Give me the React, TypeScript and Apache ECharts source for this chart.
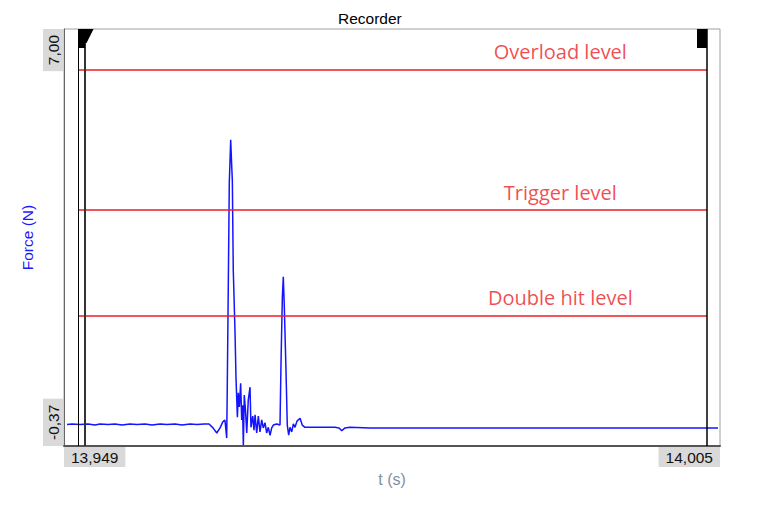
import React, { useEffect, useRef } from "react";
import * as echarts from "echarts";

const chartTitle = "Recorder";
const xAxisName = "t (s)";
const yAxisName = "Force (N)";
const xMin = 13.949;
const xMax = 14.005;
const yMin = -0.37;
const yMax = 7.0;
const xTickValues = [13.949, 14.005];
const yTickValues = [-0.37, 7.0];
const cursorTimes = [13.9502, 13.95079, 14.00389];
const levelNames = ["Overload level", "Trigger level", "Double hit level"];
const levelValues = [6.28, 3.8, 1.93];
const levelLabelTime = 13.99137;

const signalTime = [
  13.94926, 13.94968, 13.95037, 13.95105, 13.95165, 13.95207, 13.95276, 13.95335,
  13.95395, 13.95463, 13.95523, 13.95592, 13.95651, 13.9572, 13.95779, 13.95848,
  13.95907, 13.95976, 13.96035, 13.96095, 13.96138, 13.96172, 13.96204, 13.96232,
  13.96257, 13.96274, 13.96289, 13.96294, 13.96303, 13.96311, 13.96323, 13.96332,
  13.96337, 13.96345, 13.9636, 13.96368, 13.9638, 13.96388, 13.96397, 13.96408,
  13.96417, 13.96424, 13.96431, 13.96439, 13.96449, 13.9646, 13.96473, 13.96488,
  13.96496, 13.96511, 13.96522, 13.96531, 13.96545, 13.96559, 13.96573, 13.96588,
  13.96601, 13.96616, 13.9663, 13.96644, 13.96659, 13.96673, 13.96687, 13.96716,
  13.96744, 13.96753, 13.96764, 13.96772, 13.96781, 13.96795, 13.96806, 13.96818,
  13.96829, 13.96844, 13.96858, 13.96872, 13.96889, 13.96915, 13.96934, 13.96957,
  13.97043, 13.97128, 13.97213, 13.97248, 13.97271, 13.97299, 13.97341, 13.97512,
  13.97768, 13.98195, 13.98622, 13.99049, 13.99476, 13.99902, 14.00244, 14.00483,
];

const signalForce = [
  0.01, 0.02, 0.01, 0.02, 0.0, 0.02, 0.01, 0.02,
  0.0, 0.02, 0.01, 0.02, 0.0, 0.02, 0.01, 0.02,
  0.0, 0.02, 0.01, 0.02, 0.02, -0.05, -0.14, -0.05,
  0.06, 0.09, -0.23, 0.71, 2.56, 4.28, 5.04, 4.56,
  4.33, 2.74, 1.63, 0.85, 0.14, 0.57, 0.32, 0.74,
  0.09, 0.35, -0.35, 0.53, 0.27, -0.14, 0.44, 0.67,
  -0.04, 0.16, -0.09, 0.18, -0.14, 0.16, -0.12, 0.09,
  -0.05, 0.04, -0.14, -0.04, -0.18, -0.05, 0.0, 0.02,
  0.0, 1.15, 2.26, 2.62, 2.07, 0.97, 0.0, -0.18,
  -0.04, -0.12, 0.02, -0.04, 0.07, 0.12, 0.0, -0.04,
  -0.04, -0.04, -0.04, -0.05, -0.1, -0.05, -0.04, -0.05,
  -0.05, -0.05, -0.05, -0.05, -0.05, -0.05, -0.05, -0.05,
];

const RED = "#ee1c25";
const AXIS_FONT = "'Liberation Sans', Arial, sans-serif";

export default function App() {
  const ref = useRef<HTMLDivElement>(null);

  useEffect(() => {
    if (!ref.current) return;
    const chart = echarts.init(ref.current, undefined, { renderer: "svg" });

    const signal = signalTime.map((t, i) => [t, signalForce[i]]);
    const levelPoints = levelValues.map((v, i) => ({
      value: [levelLabelTime, v],
      name: levelNames[i],
    }));
    const levelLines = levelValues.map((v) => [
      { coord: [cursorTimes[0], v] },
      { coord: [cursorTimes[2], v] },
    ]);

    chart.setOption({
      animation: false,
      textStyle: { fontFamily: AXIS_FONT },
      title: {
        text: chartTitle,
        left: 338,
        top: 10,
        padding: 0,
        textStyle: {
          fontSize: 15.5,
          fontWeight: "normal",
          color: "#000",
          fontFamily: AXIS_FONT,
        },
      },
      grid: {
        left: 64,
        right: 51,
        top: 29,
        bottom: 59,
        show: true,
        borderColor: "#a0a0a0",
        borderWidth: 1,
        backgroundColor: "#fff",
      },
      xAxis: {
        type: "value",
        min: xMin,
        max: xMax,
        name: xAxisName,
        nameLocation: "middle",
        nameGap: 23,
        nameTextStyle: { color: "#8090a0", fontSize: 16, fontFamily: AXIS_FONT },
        axisLine: { show: true, onZero: false, lineStyle: { color: "#555", width: 2 } },
        axisTick: { show: false },
        splitLine: { show: false },
        axisLabel: {
          customValues: xTickValues,
          margin: 1,
          formatter: (v: number) => v.toFixed(3).replace(".", ","),
          backgroundColor: "#d9d9d9",
          padding: [2, 7, 2, 7],
          color: "#111",
          fontSize: 15.5,
          fontFamily: AXIS_FONT,
          verticalAlign: "top",
          alignMinLabel: "left",
          alignMaxLabel: "right",
        },
      },
      yAxis: {
        type: "value",
        min: yMin,
        max: yMax,
        name: yAxisName,
        nameLocation: "middle",
        nameRotate: 90,
        nameGap: 24,
        nameTextStyle: { color: "#1a1aff", fontSize: 15.5, fontFamily: AXIS_FONT },
        axisLine: { show: true, onZero: false, lineStyle: { color: "#666", width: 1 } },
        axisTick: { show: false },
        splitLine: { show: false },
        axisLabel: {
          customValues: yTickValues,
          rotate: 90,
          margin: 1,
          formatter: (v: number) => v.toFixed(2).replace(".", ","),
          backgroundColor: "#d9d9d9",
          padding: [2, 6, 2, 6],
          color: "#111",
          fontSize: 15.5,
          fontFamily: AXIS_FONT,
          align: "center",
          verticalAlign: "bottom",
          alignMinLabel: "left",
          alignMaxLabel: "right",
        },
      },
      series: [
        {
          type: "scatter",
          z: 1,
          symbolSize: 0,
          silent: true,
          data: levelPoints,
          label: {
            show: true,
            position: "top",
            distance: 8,
            formatter: (p: any) => p.name,
            color: RED,
            fontSize: 20,
            fontFamily: "'Open Sans', sans-serif",
          },
          markLine: {
            silent: true,
            precision: 6,
            symbol: ["none", "none"],
            label: { show: false },
            lineStyle: { color: RED, width: 1.5, type: "solid" },
            data: levelLines,
          },
        },
        {
          type: "line",
          z: 3,
          data: signal,
          showSymbol: false,
          symbol: "none",
          silent: true,
          lineStyle: { color: "#1414ff", width: 1.5 },
          markLine: {
            silent: true,
            precision: 6,
            symbol: ["none", "none"],
            label: { show: false },
            data: [
              { xAxis: cursorTimes[0], lineStyle: { color: "#000", width: 1, type: "solid" } },
              { xAxis: cursorTimes[1], lineStyle: { color: "#333", width: 2, type: "solid" } },
              { xAxis: cursorTimes[2], lineStyle: { color: "#000", width: 1.5, type: "solid" } },
            ],
          },
          markPoint: {
            silent: true,
            label: { show: false },
            itemStyle: { color: "#000" },
            data: [
              {
                coord: [cursorTimes[0], yMax],
                symbol: "path://M0,0L15.5,0L8.5,14L7,14L7,19L0,19Z",
                symbolSize: [15.5, 19],
                symbolOffset: [7.75, 9.5],
                symbolKeepAspect: false,
              },
              {
                coord: [cursorTimes[2], yMax],
                symbol: "rect",
                symbolSize: [10, 19],
                symbolOffset: [-5, 9.5],
              },
            ],
          },
        },
      ],
    });

    return () => chart.dispose();
  }, []);

  return (
    <div
      ref={ref}
      style={{ position: "fixed", left: 0, top: 0, width: 771, height: 505, background: "#fff" }}
    />
  );
}
